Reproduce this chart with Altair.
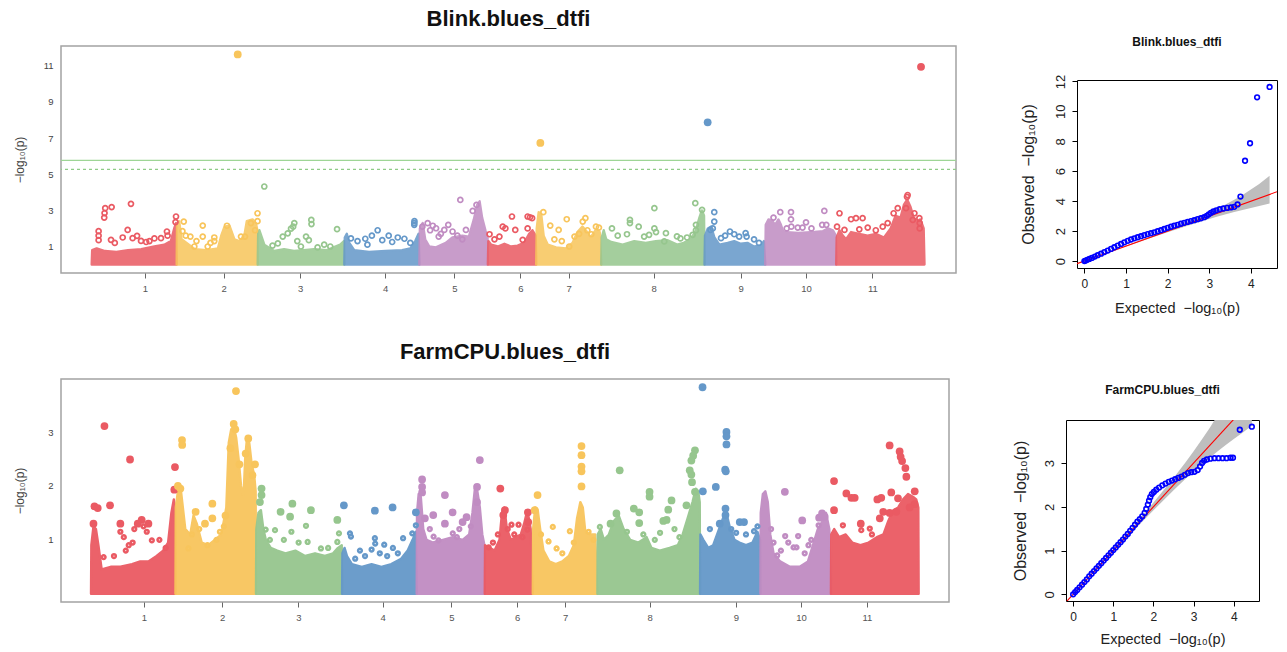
import json

import altair as alt
import pandas as pd

FONT = "Liberation Sans, Arial, Helvetica, sans-serif"

# ---------------------------------------------------------------- chromosomes
CHROM_NAMES = ["1", "2", "3", "4", "5", "6", "7", "8", "9", "10", "11"]
CHROM_LEN = [51.5, 49.1, 52.5, 45.5, 41.5, 29.3, 39.4, 62.6, 36.8, 43.0, 53.5]   # Mb
CHROM_TICK = [32.3, 28.5, 25.8, 24.8, 21.2, 19.7, 19.7, 31.8, 21.9, 24.7, 21.9]  # Mb within chromosome
CHROM_COLORS = ["#EA5A63", "#F8C55C", "#96C68E", "#6598C9", "#C08CC2"]

BLINK_THRESHOLDS = [5.77, 5.27]

# ---------------------------------------------------------------- Blink
# dense SNP cloud outline per chromosome: (Mb, -log10 p)
BLINK_BAND_C1 = [(0, 0), (0.3, 0.8), (3, 0.9), (8, 0.75), (15, 0.7), (22, 0.8), (30, 0.85), (38, 1.0), (44, 1.1), (48, 1.3), (50, 2.0), (51.2, 2.3), (51.5, 0)]
BLINK_BAND_C2 = [(0, 0), (0.2, 2.2), (1.5, 2.4), (3, 1.4), (6, 1.2), (11, 0.85), (18, 0.8), (25, 0.9), (27, 1.6), (29, 2.1), (32, 2.15), (35, 1.4), (38, 1.3), (41, 1.6), (42.5, 2.4), (46, 2.5), (48, 2.3), (48.9, 1.9), (49.1, 0)]
BLINK_BAND_C3 = [(0, 0), (0.3, 1.7), (1.0, 1.9), (2.5, 1.5), (4, 1.1), (10, 0.75), (16, 0.85), (22, 0.75), (28, 0.8), (34, 0.85), (42, 0.8), (47, 1.0), (50, 1.1), (52.3, 1.3), (52.5, 0)]
BLINK_BAND_C4 = [(0, 0), (0.3, 1.5), (1.5, 1.7), (3, 1.2), (6, 0.8), (15, 0.7), (25, 0.75), (35, 0.8), (40, 0.9), (43, 1.3), (45, 1.7), (45.5, 0)]
BLINK_BAND_C5 = [(0, 0), (0.3, 2.0), (2, 2.3), (3.5, 1.4), (6, 1.0), (10, 0.95), (16, 1.2), (20, 1.5), (26, 1.6), (30, 1.55), (33, 2.5), (35, 3.3), (36.5, 3.5), (38, 2.6), (40, 1.9), (41.3, 1.5), (41.5, 0)]
BLINK_BAND_C6 = [(0, 0), (0.3, 1.3), (2, 1.1), (6, 1.0), (10, 1.15), (14, 1.0), (18, 1.05), (22, 1.2), (25, 1.7), (27, 1.9), (29, 1.6), (29.3, 0)]
BLINK_BAND_C7 = [(0, 0), (0.3, 2.0), (1.5, 2.9), (3, 2.8), (4.5, 1.6), (7, 1.1), (12, 0.95), (18, 0.9), (22, 1.2), (25, 1.8), (28, 2.1), (30, 1.9), (33, 1.5), (36, 1.9), (38.5, 1.8), (39.4, 0)]
BLINK_BAND_C8 = [(0, 0), (0.3, 1.5), (1.5, 1.9), (3, 1.4), (6, 1.25), (13, 1.1), (20, 1.3), (27, 1.2), (33, 1.3), (40, 1.35), (46, 1.1), (50, 1.2), (54, 1.4), (57, 1.8), (59.5, 2.6), (61, 3.0), (62.3, 2.7), (62.6, 0)]
BLINK_BAND_C9 = [(0, 0), (0.3, 1.6), (2, 2.0), (4, 2.1), (6, 1.5), (9, 1.1), (14, 1.2), (18, 1.3), (22, 1.15), (26, 1.2), (30, 1.0), (34, 1.05), (36, 1.3), (36.8, 0)]
BLINK_BAND_C10 = [(0, 0), (0.3, 2.2), (2, 2.5), (4, 2.45), (6, 2.2), (8, 2.5), (9.5, 2.2), (11, 1.8), (20, 1.75), (30, 1.8), (35, 1.85), (38, 2.0), (41, 1.9), (42.8, 1.6), (43.0, 0)]
BLINK_BAND_C11 = [(0, 0), (0.3, 1.5), (2, 1.9), (4, 1.6), (6, 1.4), (9, 1.8), (14, 1.7), (19, 1.6), (24, 1.7), (29, 1.5), (33, 2.0), (36, 2.7), (39, 2.6), (41, 3.3), (43, 3.6), (45, 3.2), (47, 2.6), (49, 2.4), (51, 2.5), (53, 2.0), (53.5, 0)]

# individual SNPs standing out of the cloud: (Mb, -log10 p)
BLINK_SNP_C1 = [(4.2, 1.85), (4.2, 1.6), (4.2, 1.35), (7.6, 2.6), (7.8, 2.85), (8.2, 3.12), (12.1, 3.18), (23.8, 3.36), (11.7, 1.37), (21.8, 1.92), (18.8, 1.5), (24.8, 1.46), (27.5, 1.59), (29.9, 1.31), (42.0, 1.46), (45.6, 1.83), (46.0, 1.6), (51.1, 2.66), (50.8, 2.35), (35.0, 1.3), (33.0, 1.25), (14.0, 1.2), (38.0, 1.45)]
BLINK_SNP_C2 = [(4.3, 2.38), (15.8, 2.16), (8.3, 1.55), (15.8, 1.55), (12.0, 1.3), (22.8, 1.5), (22.8, 1.3), (39.0, 1.55), (41.4, 1.55), (49.0, 2.84), (49.0, 2.4), (10.7, 1.0), (18.8, 1.0), (37.0, 11.63), (30.5, 2.15), (45.0, 2.3), (47.5, 1.9), (20.5, 1.2), (3.5, 1.85), (5.5, 1.6)]
BLINK_SNP_C3 = [(4.0, 4.32), (15.2, 1.55), (18.2, 1.73), (20.2, 1.99), (22.2, 2.3), (21.5, 2.1), (32.5, 2.47), (32.6, 2.24), (48.1, 1.96), (29.3, 1.55), (12.2, 1.17), (26.2, 1.0), (36.3, 0.95), (40.3, 1.1), (24.0, 1.3), (31.0, 1.35), (44.0, 1.0), (9.0, 1.05)]
BLINK_SNP_C4 = [(12.7, 1.43), (20.2, 1.9), (26.9, 1.6), (32.4, 1.5), (16.7, 1.6), (36.4, 1.43), (40.0, 1.2), (42.4, 2.2), (42.4, 2.3), (42.5, 2.4), (8.0, 1.3), (23.0, 1.35), (29.0, 1.25), (4.0, 1.45), (14.0, 1.1)]
BLINK_SNP_C5 = [(24.8, 3.58), (32.3, 2.97), (34.6, 3.3), (5.0, 2.29), (1.8, 2.1), (10.1, 2.01), (15.1, 1.92), (17.5, 2.2), (20.1, 1.83), (11.7, 1.55), (28.2, 1.92), (8.1, 2.15), (13.0, 1.7), (23.0, 1.6), (26.0, 1.4), (6.5, 1.9)]
BLINK_SNP_C6 = [(1.0, 1.68), (14.6, 2.66), (24.1, 2.66), (26.8, 2.57), (25.5, 2.62), (9.0, 2.1), (10.6, 2.0), (16.6, 1.92), (24.1, 2.0), (21.1, 1.37), (7.0, 1.55), (4.0, 1.4)]
BLINK_SNP_C7 = [(2.5, 6.73), (4.3, 2.9), (8.5, 2.16), (13.6, 1.92), (18.5, 2.51), (23.2, 1.55), (28.2, 2.38), (29.8, 2.57), (36.2, 2.1), (33.4, 1.68), (20.0, 1.0), (11.0, 1.4), (26.0, 1.7), (15.5, 1.3), (31.0, 1.9), (38.0, 2.05)]
BLINK_SNP_C8 = [(6.5, 2.0), (17.4, 2.47), (17.4, 2.3), (22.7, 2.1), (15.6, 1.68), (32.2, 3.12), (32.2, 2.0), (33.2, 1.8), (39.2, 1.74), (45.9, 1.56), (57.0, 3.4), (61.1, 3.03), (57.4, 2.2), (57.4, 1.9), (55.4, 1.65), (38.2, 1.28), (10.0, 1.6), (26.0, 1.55), (29.0, 1.65), (48.0, 1.45), (52.0, 1.5)]
BLINK_SNP_C9 = [(1.9, 7.87), (5.9, 2.9), (5.9, 2.38), (5.0, 2.0), (15.4, 1.83), (18.0, 1.68), (21.0, 1.55), (24.9, 1.74), (25.5, 1.55), (3.6, 1.92), (10.0, 1.46), (12.5, 1.6), (30.0, 1.4), (33.0, 1.2)]
BLINK_SNP_C10 = [(9.1, 2.9), (15.6, 2.9), (15.6, 2.5), (15.8, 2.1), (19.7, 2.05), (24.7, 2.34), (22.6, 2.05), (35.8, 2.97), (34.5, 2.2), (37.0, 2.2), (28.0, 2.0), (5.0, 2.6), (13.0, 2.0)]
BLINK_SNP_C11 = [(51.4, 10.94), (2.0, 2.84), (9.0, 2.51), (12.0, 2.57), (16.0, 2.57), (0.5, 2.1), (5.0, 1.92), (19.1, 2.05), (28.2, 2.1), (31.2, 2.3), (37.3, 3.12), (42.3, 3.12), (42.9, 3.75), (43.3, 3.85), (50.4, 2.57), (50.6, 2.3), (50.6, 2.0), (47.4, 2.84), (46.4, 2.47), (34.8, 2.84), (24.0, 1.9), (14.0, 1.95)]

# ---------------------------------------------------------------- FarmCPU
FARM_BAND_C1 = [(0, 0), (0.2, 0.9), (1.5, 1.25), (3, 1.2), (4.5, 0.9), (6.5, 0.45), (12, 0.5), (18, 0.5), (25, 0.55), (30, 0.6), (35, 0.6), (40, 0.7), (44, 0.8), (47, 0.95), (49, 1.5), (50.5, 1.75), (51.3, 1.6), (51.5, 0)]
FARM_BAND_C2 = [(0, 0), (0.2, 1.6), (1.5, 1.9), (3, 2.0), (4.5, 1.6), (6, 1.2), (9, 1.1), (11, 1.45), (13, 1.3), (16, 0.95), (20, 0.9), (24, 1.0), (28, 1.1), (31, 1.6), (32.5, 2.8), (34, 3.05), (35.5, 3.1), (37, 2.9), (38.5, 2.5), (40, 2.0), (41.5, 1.8), (42.5, 2.5), (43.5, 2.85), (45, 2.8), (46.5, 2.4), (48, 2.2), (48.9, 1.9), (49.1, 0)]
FARM_BAND_C3 = [(0, 0), (0.2, 1.2), (1.5, 1.5), (3, 1.55), (4.5, 1.2), (6, 1.0), (9, 0.85), (13, 0.8), (18, 0.75), (24, 0.8), (30, 0.7), (36, 0.75), (42, 0.7), (47, 0.75), (50, 0.85), (52.3, 0.9), (52.5, 0)]
FARM_BAND_C4 = [(0, 0), (0.2, 0.75), (1.5, 0.85), (3, 0.7), (6, 0.55), (12, 0.5), (18, 0.55), (24, 0.5), (30, 0.55), (36, 0.65), (40, 0.8), (43, 1.0), (45, 1.15), (45.5, 0)]
FARM_BAND_C5 = [(0, 0), (0.2, 1.5), (1.2, 1.85), (2.5, 1.8), (4, 1.2), (6, 1.0), (10, 0.95), (16, 1.0), (22, 1.05), (28, 1.0), (32, 1.1), (34, 1.5), (35.5, 1.95), (37, 1.9), (38.5, 1.6), (40, 1.1), (41.3, 0.9), (41.5, 0)]
FARM_BAND_C6 = [(0, 0), (0.2, 0.9), (3, 0.85), (6, 0.8), (9, 1.0), (10.5, 1.5), (12, 1.6), (13.5, 1.2), (16, 1.0), (19, 1.05), (22, 1.1), (24, 1.3), (26, 1.55), (28, 1.2), (29.3, 0)]
FARM_BAND_C7 = [(0, 0), (0.2, 1.2), (1.5, 1.6), (3, 1.55), (4.5, 1.2), (6.5, 0.8), (10, 0.6), (14, 0.55), (18, 0.6), (22, 0.7), (25, 0.9), (27, 1.4), (29, 1.7), (30.5, 1.6), (32, 1.15), (35, 1.1), (38, 1.1), (39.4, 0)]
FARM_BAND_C8 = [(0, 0), (0.2, 1.1), (2, 1.2), (4, 1.0), (7, 1.1), (10, 1.35), (13, 1.45), (16, 1.2), (20, 1.0), (25, 0.95), (30, 1.05), (33, 0.85), (38, 0.8), (44, 0.85), (49, 0.9), (52, 1.1), (55, 1.4), (58, 1.7), (60, 1.95), (61.5, 1.9), (62.4, 1.7), (62.6, 0)]
FARM_BAND_C9 = [(0, 0), (0.2, 1.1), (2, 1.0), (5, 0.85), (8, 0.9), (11, 1.15), (14, 1.4), (16, 1.5), (18, 1.25), (21, 1.0), (24, 0.95), (28, 0.9), (32, 0.95), (35, 1.15), (36.6, 1.0), (36.8, 0)]
FARM_BAND_C10 = [(0, 0), (0.2, 1.5), (1.5, 1.85), (3, 1.9), (4.5, 1.7), (6, 1.1), (8, 0.75), (12, 0.6), (18, 0.5), (24, 0.5), (29, 0.6), (32, 0.9), (35, 1.2), (38, 1.35), (40, 1.5), (42, 1.2), (43.0, 0)]
FARM_BAND_C11 = [(0, 0), (0.2, 1.1), (2, 1.2), (5, 1.05), (9, 1.1), (13, 0.95), (18, 0.9), (23, 0.95), (28, 1.05), (32, 1.1), (35, 1.35), (38, 1.55), (41, 1.6), (44, 1.75), (47, 1.85), (50, 1.8), (52, 1.75), (53.3, 1.6), (53.5, 0)]

FARM_SNP_C1 = [(8.2, 3.11), (23.8, 2.49), (2.1, 1.62), (4.1, 1.59), (11.6, 1.64), (51.2, 2.35), (50.8, 1.93), (17.9, 1.3), (17.9, 1.15), (30.9, 1.37), (28.5, 1.3), (26.4, 1.2), (35.0, 1.3), (34.0, 1.15), (37.1, 0.99), (41.7, 1.0), (25.4, 0.95), (7.7, 0.68), (21.2, 0.8), (14.0, 0.7), (45.5, 0.85), (1.5, 1.3), (32.0, 1.25), (20.0, 1.05), (23.0, 0.9)]
FARM_SNP_C2 = [(36.9, 3.76), (4.0, 2.85), (4.1, 2.76), (12.3, 1.52), (18.0, 1.3), (22.5, 1.67), (22.5, 1.4), (27.1, 1.15), (19.5, 0.9), (7.9, 0.84), (44.4, 2.88), (48.5, 2.4), (1.5, 2.0), (3.0, 1.95), (10.0, 1.1), (14.5, 1.2), (25.0, 1.0), (29.5, 1.25), (35.5, 3.15), (36.5, 3.05), (33.5, 2.7), (39.0, 2.4), (42.8, 2.6), (47.0, 2.2), (30.5, 1.45)]
FARM_SNP_C3 = [(3.4, 1.95), (3.4, 1.83), (2.4, 1.7), (15.0, 1.52), (22.2, 1.67), (20.8, 1.43), (33.5, 1.55), (30.5, 1.26), (49.6, 1.37), (50.6, 1.12), (49.6, 0.96), (11.6, 1.18), (5.9, 1.19), (21.6, 1.15), (31.5, 0.96), (39.6, 0.84), (26.0, 0.95), (44.0, 0.85), (8.5, 1.0), (17.0, 1.0)]
FARM_SNP_C4 = [(1.1, 1.64), (4.8, 1.12), (5.4, 1.06), (20.0, 1.54), (30.8, 1.6), (45.0, 1.51), (45.0, 1.27), (20.0, 1.03), (18.0, 0.82), (25.7, 0.91), (10.9, 0.8), (37.2, 1.03), (31.0, 0.85), (42.8, 1.12), (20.2, 0.93), (14.0, 0.7), (34.0, 0.75), (27.5, 0.7), (8.0, 0.65), (23.0, 0.75)]
FARM_SNP_C5 = [(3.3, 2.12), (3.3, 1.98), (3.3, 1.88), (17.2, 1.83), (21.9, 1.51), (10.1, 1.46), (17.2, 1.3), (28.0, 1.33), (30.4, 1.42), (38.5, 2.48), (36.8, 1.98), (36.8, 1.7), (10.3, 1.06), (13.3, 0.99), (22.0, 1.12), (5.0, 1.4), (26.0, 1.2), (33.0, 1.25), (8.0, 1.2), (24.5, 1.05)]
FARM_SNP_C6 = [(9.5, 1.95), (12.3, 1.55), (11.3, 1.46), (16.3, 1.28), (20.6, 1.28), (26.3, 1.51), (26.5, 1.33), (26.0, 1.19), (2.4, 0.86), (5.0, 0.95), (18.0, 1.1), (23.0, 1.05), (14.0, 1.2), (8.0, 1.1)]
FARM_SNP_C7 = [(29.7, 2.74), (29.7, 2.57), (29.7, 2.36), (29.7, 2.27), (29.7, 1.99), (2.9, 1.83), (1.2, 1.55), (12.2, 1.24), (9.6, 0.97), (22.6, 1.16), (14.5, 0.84), (18.0, 0.75), (25.0, 0.95), (34.0, 1.15), (37.0, 1.0), (5.0, 1.1)]
FARM_SNP_C8 = [(13.6, 2.29), (31.8, 1.89), (31.8, 1.8), (11.6, 1.49), (22.2, 1.58), (25.5, 1.51), (25.5, 1.31), (1.5, 1.24), (59.5, 2.66), (58.4, 2.56), (57.3, 2.47), (56.3, 2.29), (57.3, 2.21), (57.7, 2.07), (59.5, 1.89), (54.3, 1.64), (45.2, 1.73), (43.2, 1.56), (42.2, 1.37), (40.2, 1.35), (38.2, 1.13), (8.0, 1.3), (18.0, 1.15), (28.0, 1.1), (47.0, 1.2), (35.0, 1.0), (50.0, 1.05)]
FARM_SNP_C9 = [(1.5, 3.83), (16.1, 3.0), (16.1, 2.92), (16.1, 2.77), (15.3, 2.3), (15.7, 2.27), (9.6, 1.98), (1.7, 1.9), (15.5, 1.58), (15.5, 1.46), (24.2, 1.33), (26.8, 1.33), (32.9, 1.16), (22.0, 1.13), (28.0, 1.1), (6.0, 1.2), (12.0, 1.3), (19.0, 1.2), (35.0, 1.25)]
FARM_SNP_C10 = [(14.9, 1.89), (25.5, 1.36), (15.1, 1.07), (20.2, 0.86), (22.0, 0.86), (23.0, 1.07), (29.3, 0.9), (35.8, 1.41), (35.5, 1.27), (37.6, 1.49), (39.2, 1.43), (10.2, 0.71), (12.5, 0.8), (17.0, 0.95), (27.0, 0.75), (31.0, 1.0), (6.5, 1.2), (8.0, 0.95)]
FARM_SNP_C11 = [(1.9, 2.09), (1.9, 1.55), (9.4, 1.86), (12.5, 1.78), (14.5, 1.78), (35.8, 2.75), (41.9, 2.64), (42.5, 2.54), (43.4, 2.46), (45.4, 2.33), (46.0, 2.17), (51.1, 1.9), (28.3, 1.75), (30.7, 1.78), (36.8, 1.88), (40.9, 1.77), (31.9, 1.52), (35.8, 1.5), (39.9, 1.52), (18.2, 1.3), (23.7, 1.21), (29.8, 1.4), (7.3, 1.27), (18.5, 1.18), (51.0, 1.66), (48.0, 1.6), (25.0, 1.1)]

# ---------------------------------------------------------------- QQ plots
BLINK_QQ_EXP = [0.00, 0.03, 0.07, 0.12, 0.18, 0.25, 0.32, 0.40, 0.48, 0.56, 0.64, 0.72, 0.80, 0.88, 0.96, 1.04, 1.12, 1.20, 1.28, 1.36, 1.44, 1.52, 1.60, 1.68, 1.76, 1.84, 1.92, 2.00, 2.08, 2.16, 2.24, 2.32, 2.40, 2.48, 2.56, 2.64, 2.72, 2.80, 2.88, 2.94, 2.99, 3.04, 3.10, 3.17, 3.25, 3.34, 3.43, 3.52, 3.60, 3.68, 3.75, 3.86, 3.98, 4.15, 4.45]
BLINK_QQ_OBS = [0.00, 0.03, 0.08, 0.14, 0.21, 0.30, 0.39, 0.49, 0.60, 0.70, 0.81, 0.92, 1.03, 1.14, 1.25, 1.35, 1.44, 1.52, 1.59, 1.66, 1.73, 1.80, 1.86, 1.92, 1.99, 2.06, 2.14, 2.22, 2.29, 2.36, 2.42, 2.49, 2.55, 2.61, 2.67, 2.73, 2.80, 2.86, 2.93, 3.02, 3.12, 3.22, 3.31, 3.39, 3.46, 3.51, 3.55, 3.58, 3.62, 3.78, 4.31, 6.70, 7.87, 10.94, 11.63]

FARM_QQ_EXP = [0.00, 0.05, 0.10, 0.16, 0.22, 0.28, 0.34, 0.40, 0.46, 0.52, 0.58, 0.64, 0.70, 0.76, 0.82, 0.88, 0.94, 1.00, 1.06, 1.12, 1.18, 1.24, 1.30, 1.36, 1.42, 1.48, 1.54, 1.60, 1.66, 1.72, 1.78, 1.82, 1.86, 1.89, 1.92, 1.96, 2.01, 2.07, 2.14, 2.22, 2.30, 2.38, 2.46, 2.54, 2.62, 2.70, 2.78, 2.86, 2.94, 3.02, 3.10, 3.16, 3.21, 3.26, 3.33, 3.42, 3.52, 3.62, 3.72, 3.82, 3.92, 3.98, 4.15, 4.45]
FARM_QQ_OBS = [0.00, 0.05, 0.10, 0.16, 0.22, 0.28, 0.34, 0.41, 0.47, 0.53, 0.59, 0.65, 0.71, 0.77, 0.83, 0.89, 0.95, 1.01, 1.07, 1.13, 1.19, 1.25, 1.32, 1.38, 1.45, 1.52, 1.59, 1.66, 1.72, 1.78, 1.86, 1.95, 2.05, 2.14, 2.22, 2.29, 2.34, 2.39, 2.44, 2.49, 2.53, 2.57, 2.60, 2.63, 2.66, 2.69, 2.73, 2.77, 2.79, 2.80, 2.84, 2.92, 3.00, 3.05, 3.08, 3.10, 3.11, 3.11, 3.11, 3.11, 3.12, 3.12, 3.76, 3.83]

# 95% band of the expected order statistics
QQ_BAND_EXP = [0.0, 0.5, 1.0, 1.5, 2.0, 2.5, 2.8, 3.0, 3.2, 3.4, 3.6, 3.8, 4.0, 4.2, 4.45]
QQ_BAND_LO = [0.0, 0.49, 0.97, 1.45, 1.92, 2.38, 2.64, 2.81, 2.97, 3.12, 3.27, 3.41, 3.55, 3.68, 3.85]
QQ_BAND_HI = [0.0, 0.51, 1.03, 1.56, 2.10, 2.66, 3.02, 3.27, 3.53, 3.80, 4.10, 4.42, 4.78, 5.15, 5.70]

# ---------------------------------------------------------------- helpers
OFFSETS = [sum(CHROM_LEN[:i]) for i in range(len(CHROM_LEN))]
TICK_POS = [OFFSETS[i] + CHROM_TICK[i] for i in range(len(CHROM_LEN))]
TICK_LABEL_EXPR = "%s[indexof(%s, datum.value)]" % (json.dumps(CHROM_NAMES), json.dumps(TICK_POS))


def genome_frame(per_chrom):
    rows = []
    for i, pts in enumerate(per_chrom):
        for mb, v in pts:
            rows.append({"chrom": i + 1, "pos": OFFSETS[i] + mb, "logp": v, "base": 0.0,
                         "col": CHROM_COLORS[i % len(CHROM_COLORS)]})
    return pd.DataFrame(rows)


def manhattan(title, band_lists, snp_lists, width, height, xdom, ydom, yticks,
              ring_cut, ring_size, ring_width, dot_range, title_offset,
              label_color, band_opacity, thresholds=None):
    band = genome_frame(band_lists)
    snps = genome_frame(snp_lists)
    x = alt.X("pos:Q", scale=alt.Scale(domain=xdom, nice=False, zero=False),
              axis=alt.Axis(values=TICK_POS, labelExpr=TICK_LABEL_EXPR, title=None,
                            grid=False, domain=False, tickSize=5, tickColor="#666666",
                            tickWidth=1, labelColor=label_color, labelFont=FONT,
                            labelFontSize=9.5, labelPadding=5))
    yaxis = alt.Axis(values=yticks, format="d", grid=False, domain=False,
                     ticks=False, labelPadding=8, labelFont=FONT,
                     labelFontSize=9.5, labelColor="#444444",
                     title="\u2212log\u2081\u2080(p)", titleFont=FONT,
                     titleFontSize=12, titleFontWeight="normal",
                     titleColor="#444444", titleAngle=270, titleX=-42,
                     titleY=height / 2, titleAlign="center",
                     titleBaseline="middle")
    yscale = alt.Scale(domain=ydom, nice=False, zero=False)
    y = alt.Y("logp:Q", scale=yscale, axis=yaxis, stack=None)
    layers = []
    if thresholds:
        layers.append(alt.Chart(pd.DataFrame({"logp": [thresholds[0]]}))
                      .mark_rule(color="#9ED596", strokeWidth=1.2).encode(y=y))
        layers.append(alt.Chart(pd.DataFrame({"logp": [thresholds[1]]}))
                      .mark_rule(color="#8FCB87", strokeWidth=1.1, strokeDash=[3, 3]).encode(y=y))
    layers.append(
        alt.Chart(band).mark_area(opacity=band_opacity, strokeWidth=2.4, strokeJoin="round")
        .encode(x=x, y=y, y2="base:Q", detail="chrom:N",
                fill=alt.Fill("col:N", scale=None), stroke=alt.Stroke("col:N", scale=None)))
    layers.append(
        alt.Chart(snps).transform_filter(alt.datum.logp < ring_cut)
        .mark_point(shape="circle", filled=False, size=ring_size, strokeWidth=ring_width, opacity=1)
        .encode(x=x, y=y, color=alt.Color("col:N", scale=None)))
    layers.append(
        alt.Chart(snps).transform_filter(alt.datum.logp >= ring_cut)
        .mark_circle(opacity=1)
        .encode(x=x, y=y, color=alt.Color("col:N", scale=None),
                size=alt.Size("logp:Q", scale=alt.Scale(domain=[ring_cut, ydom[1]], range=dot_range),
                              legend=None)))
    return alt.layer(*layers).properties(
        width=width, height=height,
        title=alt.TitleParams(text=title, font=FONT, fontSize=22, fontWeight="bold",
                              color="#111111", anchor="middle", frame="group",
                              offset=title_offset),
        view=alt.ViewBackground(stroke="#A3A3A3", strokeWidth=1.5, fill="white"),
    )


def qq(title, exp, obs, width, height, ydom, yticks, title_offset, ytitle_x, xtitle_y):
    xdom = [-0.178, 4.628]
    pts = pd.DataFrame({"exp": exp, "obs": obs})
    band = pd.DataFrame({"exp": QQ_BAND_EXP, "obs": QQ_BAND_LO, "obs_hi": QQ_BAND_HI})
    diag = pd.DataFrame({"exp": xdom, "obs": xdom})
    x = alt.X("exp:Q", scale=alt.Scale(domain=xdom, nice=False, zero=False),
              axis=alt.Axis(values=[0, 1, 2, 3, 4], format="d", grid=False, domain=False,
                            tickSize=5, tickColor="#000000", labelFont=FONT,
                            labelFontSize=12, labelColor="#222222", labelPadding=5,
                            title="Expected\u00a0\u00a0\u2212log\u2081\u2080(p)",
                            titleFont=FONT, titleFontSize=14.5, titleFontWeight="normal",
                            titleColor="#222222", titleX=width / 2, titleY=xtitle_y,
                            titleAlign="center", titleBaseline="middle"))
    y = alt.Y("obs:Q", scale=alt.Scale(domain=ydom, nice=False, zero=False), stack=None,
              axis=alt.Axis(values=yticks, format="d", grid=False, domain=False,
                            tickSize=5, tickColor="#000000", labelFont=FONT,
                            labelFontSize=13, labelColor="#222222", labelPadding=5,
                            labelAngle=270, labelAlign="center", labelBaseline="bottom",
                            title="Observed\u00a0\u00a0\u2212log\u2081\u2080(p)",
                            titleFont=FONT, titleFontSize=16, titleFontWeight="normal",
                            titleColor="#222222", titleAngle=270, titleX=-ytitle_x,
                            titleY=height / 2, titleAlign="center", titleBaseline="middle"))
    band_layer = alt.Chart(band).mark_area(color="#BEBEBE", opacity=1, clip=True).encode(
        x=x, y=y, y2="obs_hi:Q")
    diag_layer = alt.Chart(diag).mark_line(color="#FF0000", strokeWidth=1.1, clip=True).encode(x=x, y=y)
    pt_layer = alt.Chart(pts).mark_point(shape="circle", filled=False, color="#0000FF",
                                         size=22, strokeWidth=1.6, opacity=1).encode(x=x, y=y)
    return alt.layer(band_layer, diag_layer, pt_layer).properties(
        width=width, height=height,
        title=alt.TitleParams(text=title, font=FONT, fontSize=12, fontWeight="bold",
                              color="#111111", anchor="middle", frame="group",
                              offset=title_offset),
        view=alt.ViewBackground(stroke="#000000", strokeWidth=1, fill="white"),
    )


def spacer():
    return alt.Chart(pd.DataFrame({"s": [0]})).mark_point(opacity=0).encode(
        x=alt.X("s:Q", axis=None), y=alt.Y("s:Q", axis=None)
    ).properties(width=1, height=1, view=alt.ViewBackground(strokeOpacity=0))


man_blink = manhattan(
    "Blink.blues_dtfi",
    [BLINK_BAND_C1, BLINK_BAND_C2, BLINK_BAND_C3, BLINK_BAND_C4, BLINK_BAND_C5, BLINK_BAND_C6,
     BLINK_BAND_C7, BLINK_BAND_C8, BLINK_BAND_C9, BLINK_BAND_C10, BLINK_BAND_C11],
    [BLINK_SNP_C1, BLINK_SNP_C2, BLINK_SNP_C3, BLINK_SNP_C4, BLINK_SNP_C5, BLINK_SNP_C6,
     BLINK_SNP_C7, BLINK_SNP_C8, BLINK_SNP_C9, BLINK_SNP_C10, BLINK_SNP_C11],
    width=895, height=227, xdom=[-18.6, 523.8], ydom=[-0.465, 12.095],
    yticks=[1, 3, 5, 7, 9, 11], ring_cut=5.27, ring_size=25, ring_width=1.7,
    dot_range=[60, 62], title_offset=15, label_color="#555555", band_opacity=0.86,
    thresholds=BLINK_THRESHOLDS)

man_farm = manhattan(
    "FarmCPU.blues_dtfi",
    [FARM_BAND_C1, FARM_BAND_C2, FARM_BAND_C3, FARM_BAND_C4, FARM_BAND_C5, FARM_BAND_C6,
     FARM_BAND_C7, FARM_BAND_C8, FARM_BAND_C9, FARM_BAND_C10, FARM_BAND_C11],
    [FARM_SNP_C1, FARM_SNP_C2, FARM_SNP_C3, FARM_SNP_C4, FARM_SNP_C5, FARM_SNP_C6,
     FARM_SNP_C7, FARM_SNP_C8, FARM_SNP_C9, FARM_SNP_C10, FARM_SNP_C11],
    width=888, height=223, xdom=[-18.3, 523.2], ydom=[-0.153, 3.983],
    yticks=[1, 2, 3], ring_cut=1.3, ring_size=14, ring_width=2.5,
    dot_range=[32, 68], title_offset=15, band_opacity=0.95,
    label_color=alt.ExprRef(expr="datum.label === '1' ? '#23408E' : '#555555'"))

qq_blink = qq("Blink.blues_dtfi", BLINK_QQ_EXP, BLINK_QQ_OBS, width=200, height=188,
              ydom=[-0.465, 12.095], yticks=[0, 2, 4, 6, 8, 10, 12], title_offset=25,
              ytitle_x=49, xtitle_y=40)
qq_farm = qq("FarmCPU.blues_dtfi", FARM_QQ_EXP, FARM_QQ_OBS, width=193, height=181,
             ydom=[-0.153, 3.983], yticks=[0, 1, 2, 3], title_offset=23,
             ytitle_x=46, xtitle_y=38)

# each row: Manhattan panel, then its QQ panel pushed down by a 1px spacer
row_top = alt.hconcat(man_blink, alt.vconcat(spacer(), qq_blink, spacing=33, bounds="flush"),
                      spacing=121, bounds="flush")
row_bottom = alt.hconcat(man_farm, alt.vconcat(spacer(), qq_farm, spacing=40, bounds="flush"),
                         spacing=117, bounds="flush")

chart = alt.vconcat(row_top, row_bottom, spacing=25).properties(
    padding={"left": 12, "top": 7, "right": 4, "bottom": 4},
    background="white",
)

chart.save("out.html", embed_options={"renderer": "svg", "actions": False})
